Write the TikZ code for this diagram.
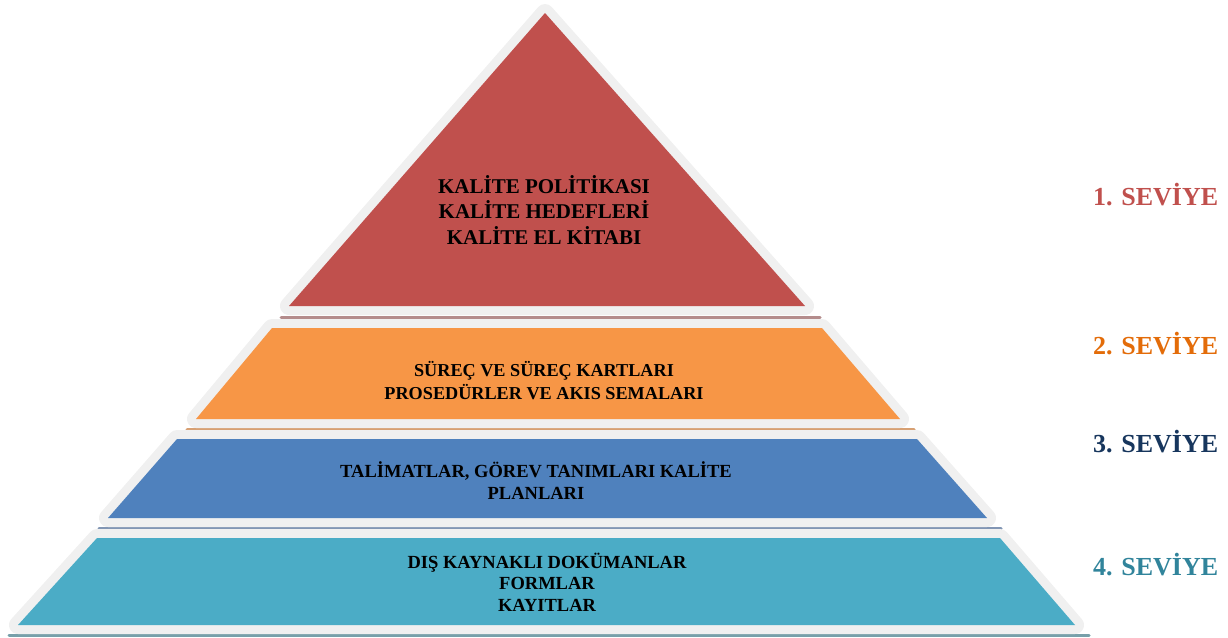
\documentclass[tikz,border=0pt]{standalone}
\usepackage{fontspec}
\setmainfont{Liberation Serif}
\usetikzlibrary{calc}

\definecolor{rimgray}{HTML}{F0F0F0}
\definecolor{lvlred}{HTML}{C0504D}
\definecolor{lvlorange}{HTML}{F79646}
\definecolor{lvlblue}{HTML}{4F81BD}
\definecolor{lvlteal}{HTML}{4BACC6}
\definecolor{txtorange}{HTML}{E36C09}
\definecolor{txtnavy}{HTML}{17365D}
\definecolor{txtteal}{HTML}{31849B}
\definecolor{shdred}{RGB}{180,140,140}
\definecolor{shdorange}{RGB}{215,160,115}
\definecolor{shdblue}{RGB}{130,150,180}
\definecolor{shdteal}{RGB}{120,160,170}

\begin{document}
\begin{tikzpicture}[x=1pt,y=-1pt,
  layer/.style={preaction={draw=rimgray,line width=18pt,line join=round},fill=#1},
  shade line/.style={draw=#1,line width=3pt,line cap=round},
  inner/.style={align=center,inner sep=0pt,font=\fontsize{18.5}{22}\selectfont\bfseries},
  level/.style={anchor=west,inner sep=0pt,font=\fontsize{26}{30}\selectfont\bfseries}]
  \useasboundingbox (0,0) rectangle (1228,637);
  % Layers
  \draw[shade line=shdred] (281,317.5) -- (820,317.5);
  \path[layer=lvlred] (545,13) -- (805,306) -- (289,306) -- cycle;
  \draw[shade line=shdorange] (187,429.5) -- (914,429.5);
  \path[layer=lvlorange] (272,328) -- (822,328) -- (900,419) -- (196,419) -- cycle;
  \draw[shade line=shdblue] (99,528) -- (1001,528);
  \path[layer=lvlblue] (177,439) -- (917,439) -- (987,518) -- (108,518) -- cycle;
  \draw[shade line=shdteal] (9,635) -- (1089,635);
  \path[layer=lvlteal] (97,538) -- (1000,538) -- (1075,625) -- (18,625) -- cycle;
  % Texts
  \node[inner,font=\fontsize{21}{25.5}\selectfont\bfseries] (top) at (544,210)
    {KALİTE POLİTİKASI\\KALİTE HEDEFLERİ\\KALİTE EL KİTABI};
  \node[inner,font=\fontsize{18.2}{23}\selectfont\bfseries] (proc) at (544,381)
    {SÜREÇ VE SÜREÇ KARTLARI\\PROSEDÜRLER VE AKIS SEMALARI};
  \node[inner] (instr) at (536,481) {TALİMATLAR, GÖREV TANIMLARI KALİTE\\PLANLARI};
  \node[inner,font=\fontsize{18.5}{21.5}\selectfont\bfseries] (docs) at (547,582)
    {DIŞ KAYNAKLI DOKÜMANLAR\\FORMLAR\\KAYITLAR};
  % Levels
  \node[level,text=lvlred] (lv1) at (1093,195) {1. SEVİYE};
  \node[level,text=txtorange] (lv2) at (1093,344) {2. SEVİYE};
  \node[level,text=txtnavy] (lv3) at (1093,442) {3. SEVİYE};
  \node[level,text=txtteal] (lv4) at (1093,565) {4. SEVİYE};
\end{tikzpicture}
\end{document}
